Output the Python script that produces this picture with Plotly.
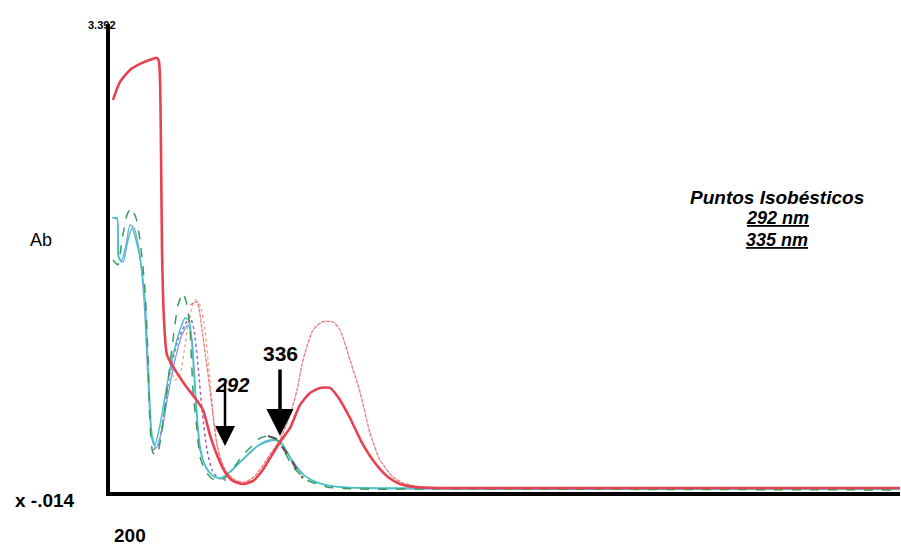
import plotly.graph_objects as go

# Wavelength (nm) / absorbance pairs for each recorded spectrum
red_nm = [202.4, 208, 216, 224, 232, 237.6, 239.2, 240.8, 241.6, 243.2, 245.6, 252, 260, 268, 274.4,
          280, 285.6, 292, 298.4, 306.4, 314.4, 321.6, 329.6, 336, 344, 352, 360, 368, 376, 382.4,
          392, 401.6, 412, 422.4, 432, 444, 464, 832]
red_ab = [2.864, 2.996, 3.084, 3.128, 3.158, 3.172, 3.143, 2.497, 1.763, 1.249, 0.992, 0.882, 0.772,
          0.676, 0.588, 0.404, 0.258, 0.133, 0.067, 0.045, 0.067, 0.140, 0.258, 0.353, 0.456, 0.625,
          0.713, 0.750, 0.750, 0.683, 0.529, 0.346, 0.199, 0.096, 0.045, 0.023, 0.015, 0.015]

pink_nm = [264, 269.6, 273.6, 280, 285.6, 292, 300, 308, 316, 324, 330.4, 336, 344, 349.6, 354.4,
           362.4, 369.6, 378.4, 384, 392, 400, 408, 416, 426.4, 434.4, 448, 464]
pink_ab = [1.359, 1.381, 1.175, 0.735, 0.331, 0.148, 0.074, 0.059, 0.104, 0.206, 0.294, 0.368, 0.551,
           0.735, 0.955, 1.175, 1.234, 1.234, 1.175, 0.955, 0.720, 0.419, 0.221, 0.096, 0.052, 0.023,
           0.015]

green_nm = [202.4, 206.4, 209.6, 213.6, 216.8, 220.8, 224, 228, 230.4, 232, 234.4, 237.6, 241.6, 245.6,
            250.4, 254.4, 258.4, 261.6, 264, 266.4, 269.6, 272, 276, 280, 285.6, 292, 300, 306.4,
            313.6, 320, 326.4, 332, 337.6, 346.4, 357.6, 373.6, 400, 464, 832]
green_ab = [1.689, 1.653, 1.836, 2.020, 2.071, 1.998, 1.836, 1.469, 0.977, 0.493, 0.272, 0.258, 0.441,
            0.735, 1.102, 1.359, 1.447, 1.359, 1.175, 0.735, 0.441, 0.243, 0.148, 0.096, 0.067, 0.089,
            0.177, 0.258, 0.324, 0.382, 0.397, 0.382, 0.316, 0.170, 0.074, 0.023, 0.008, 0.008, 0.001]

cyan_nm = [202.4, 205.6, 207.2, 210.4, 214.4, 217.6, 220.8, 224, 228, 230.4, 233.6, 236, 240, 245.6,
           250.4, 256, 260, 263.2, 266.4, 269.6, 272, 276, 281.6, 288, 296, 304, 312, 320, 328, 336,
           344, 352, 364, 384, 448, 832]
cyan_ab = [1.998, 1.998, 1.704, 1.675, 1.836, 1.924, 1.836, 1.704, 1.396, 0.918, 0.404, 0.331, 0.478,
           0.772, 0.992, 1.175, 1.263, 1.249, 0.955, 0.515, 0.294, 0.184, 0.111, 0.089, 0.133, 0.206,
           0.280, 0.338, 0.368, 0.360, 0.236, 0.133, 0.059, 0.023, 0.015, 0.008]

blue_nm = [201.6, 205.6, 206.4, 208.8, 212.8, 216, 219.2, 223.2, 227.2, 230.4, 233.6, 236.8, 241.6,
           246.4, 252, 257.6, 262.4, 265.6, 268.8, 272, 276.8, 283.2, 289.6, 297.6, 308, 318.4, 328,
           336, 345.6, 356, 372, 400, 832]
blue_ab = [1.998, 1.990, 1.726, 1.675, 1.799, 1.946, 1.924, 1.763, 1.396, 0.808, 0.368, 0.309, 0.441,
           0.698, 0.955, 1.139, 1.212, 1.102, 0.661, 0.331, 0.162, 0.096, 0.089, 0.148, 0.236, 0.324,
           0.360, 0.360, 0.221, 0.104, 0.037, 0.015, 0.008]

purple_nm = [234.4, 238.4, 242.4, 248, 254.4, 260, 264, 267.2, 270.4, 273.6, 277.6, 281.6, 286.4, 292.8]
purple_ab = [0.294, 0.331, 0.515, 0.867, 1.102, 1.212, 1.271, 1.175, 0.918, 0.588, 0.294, 0.148,
             0.089, 0.074]

orange_nm = [244, 248, 252, 256, 260, 264, 268, 272, 276, 280, 284, 288, 294.4, 304]
orange_ab = [1.065, 0.918, 0.808, 0.845, 1.065, 1.286, 1.396, 1.359, 1.175, 0.808, 0.441, 0.221,
             0.096, 0.052]

grey_nm = [326.4, 332.8, 338.4, 344, 349.6, 354.4]
grey_ab = [0.397, 0.375, 0.309, 0.236, 0.148, 0.089]

# Isosbestic points marked with arrows
iso_labels = ["292", "336"]
iso_nm = [292, 336]
iso_tip_ab = [0.324, 0.397]

y_min, y_max = -0.014, 3.392
x_min = 200

fig = go.Figure()

def add(x, y, color, width, dash="solid"):
    fig.add_trace(go.Scatter(x=x, y=y, mode="lines", showlegend=False, hoverinfo="skip",
                             line=dict(color=color, width=width, dash=dash, shape="spline",
                                       smoothing=0.6)))

add(orange_nm, orange_ab, "#e9a27a", 1.3, "dot")
add(purple_nm, purple_ab, "#9b5fc9", 1.5, "dot")
add(blue_nm, blue_ab, "#7b9fe2", 1.3)
add(cyan_nm, cyan_ab, "#3fc6c4", 1.5)
add(green_nm, green_ab, "#3c9a5c", 1.5, "dash")
add(grey_nm, grey_ab, "#5a5550", 2.2, "dash")
add(pink_nm, pink_ab, "#ec7a86", 1.3, "4px,1px")
add(red_nm, red_ab, "#e8424f", 2.6)

fig.update_xaxes(range=[x_min, 832], showline=True, linecolor="black", linewidth=4,
                 showgrid=False, zeroline=False, showticklabels=False, ticks="")
fig.update_yaxes(range=[y_min, 3.421], showline=True, linecolor="black", linewidth=4,
                 showgrid=False, zeroline=False, showticklabels=False, ticks="")

font_b = dict(family="Liberation Sans, Arial, sans-serif", color="black")

# arrows pointing at the isosbestic points
for nm, ab, w, s, ay in zip(iso_nm, iso_tip_ab, [2.5, 3.5], [1.6, 1.55], [-64, -68]):
    fig.add_annotation(x=nm, y=ab, xref="x", yref="y", text="", showarrow=True,
                       arrowhead=2, arrowwidth=w, arrowsize=s, arrowcolor="black",
                       ax=0, ay=ay, standoff=0)

fig.add_annotation(x=iso_nm[0], y=iso_tip_ab[0], xref="x", yref="y", text="<b><i>292</i></b>",
                   showarrow=False, xshift=7, yshift=61, xanchor="center", yanchor="middle",
                   font=dict(size=20, **font_b))
fig.add_annotation(x=iso_nm[1], y=iso_tip_ab[1], xref="x", yref="y", text="<b>336</b>",
                   showarrow=False, xshift=0, yshift=83, xanchor="center", yanchor="middle",
                   font=dict(size=21, **font_b))

# axis labels
fig.add_annotation(x=x_min, y=y_min, xref="x", yref="y", text="<b>x -.014</b>", showarrow=False,
                   xanchor="center", yanchor="middle", xshift=-65, yshift=-8,
                   font=dict(size=19, **font_b))
fig.add_annotation(x=x_min, y=y_min, xref="x", yref="y", text="<b>200</b>", showarrow=False,
                   xanchor="center", yanchor="middle", xshift=20, yshift=-43,
                   font=dict(size=19, **font_b))
fig.add_annotation(x=x_min, y=y_max, xref="x", yref="y", text="<b>3.392</b>", showarrow=False,
                   xanchor="center", yanchor="middle", xshift=-8, yshift=3,
                   font=dict(size=11, **font_b))

# pixel-positioned text (converted to paper fractions below)
px_notes = [
    (41, 240, "Ab", 18, None),
    (777, 197, "<b><i>Puntos Isobésticos</i></b>", 19, None),
    (777, 218, "<b><i>292 nm</i></b>", 18, "under"),
    (777, 240, "<b><i>335 nm</i></b>", 18, "under"),
]
L, R, T, B = 110, 1, 24, 53
W, H = 901, 545
pw, ph = W - L - R, H - T - B
for px, py, txt, size, lp in px_notes:
    f = dict(size=size, **font_b)
    if lp:
        f["lineposition"] = lp
    fig.add_annotation(x=(px - L) / pw, y=1 - (py - T) / ph, xref="paper", yref="paper",
                       text=txt, showarrow=False, xanchor="center", yanchor="middle", font=f)

fig.update_layout(width=W, height=H, margin=dict(l=L, r=R, t=T, b=B),
                  paper_bgcolor="white", plot_bgcolor="white")

fig.write_html("out.html")
